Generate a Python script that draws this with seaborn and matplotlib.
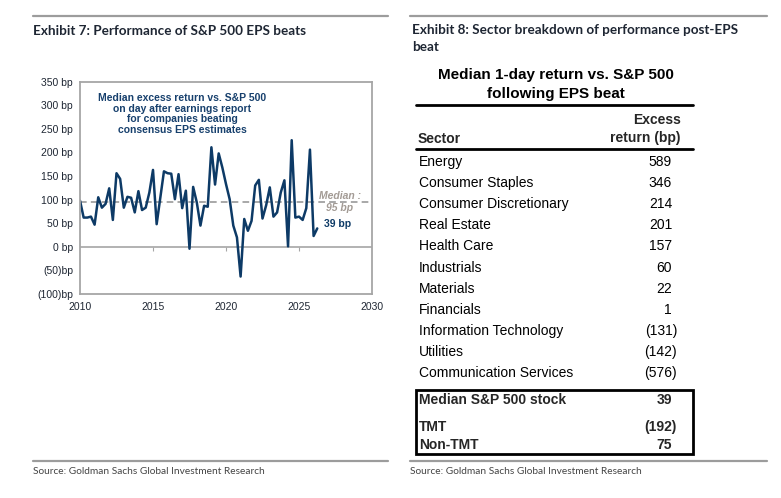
import numpy as np
import matplotlib
matplotlib.use("Agg")
import matplotlib.pyplot as plt
from matplotlib.patches import Rectangle
import seaborn as sns

# quarterly median excess return (bp), 2010Q1 .. 2026Q2
excess_bp = [
    98, 62, 62, 64, 47, 105, 83, 91, 124, 57,
    156, 144, 83, 106, 104, 73, 118, 78, 83, 115,
    163, 48, 104, 160, 156, 155, 101, 154, 82, 119,
    -4, 127, 94, 45, 87, 85, 211, 132, 198, 168,
    133, 101, 45, 20, -63, 59, 34, 55, 130, 142,
    60, 88, 126, 64, 73, 115, 141, 1, 226, 62,
    64, 57, 82, 206, 23, 39,
]
first_year = 2010
median_bp = 95
y_ticks = [350, 300, 250, 200, 150, 100, 50, 0, -50, -100]
x_ticks = [2010, 2015, 2020, 2025, 2030]

sectors = [
    "Energy", "Consumer Staples", "Consumer Discretionary", "Real Estate",
    "Health Care", "Industrials", "Materials", "Financials",
    "Information Technology", "Utilities", "Communication Services",
]
sector_bp = [589, 346, 214, 201, 157, 60, 22, 1, -131, -142, -576]
summary_names = ["Median S&P 500 stock", "TMT", "Non-TMT"]
summary_bp = [39, -192, 75]

NAVY = "#0d3a66"
GRID = "#a6a6a6"
TXT = "#1e2633"

sns.set_style("white")
plt.rcParams['font.family'] = ['Liberation Sans', 'DejaVu Sans']

W, H = 781, 498
fig = plt.figure(figsize=(W / 100, H / 100), dpi=100)

# ---------- left: line chart ----------
x0, x1, y0, y1 = 80, 372, 81.7, 294
ax = fig.add_axes([x0 / W, 1 - y1 / H, (x1 - x0) / W, (y1 - y0) / H])
quarters = first_year + np.arange(len(excess_bp)) / 4
sns.lineplot(x=quarters, y=excess_bp, ax=ax, color=NAVY, linewidth=1.8)
ax.axhline(median_bp, color="#9a9a9a", linestyle=(0, (4, 2.5)), linewidth=1.2, zorder=1)
ax.axhline(0, color=GRID, linewidth=1.2, zorder=1)
ax.set_xlim(x_ticks[0], x_ticks[-1])
ax.set_ylim(min(y_ticks), max(y_ticks))
ax.set_yticks(y_ticks)
ax.set_yticklabels([f"{v} bp" if v >= 0 else f"({-v})bp" for v in y_ticks])
ax.set_xticks(x_ticks)
ax.set_xticklabels([str(v) for v in x_ticks])
ax.tick_params(axis='y', length=3, width=0.8, color=GRID, labelsize=7.5, labelcolor=TXT, pad=2)
ax.tick_params(axis='x', length=0, labelsize=7.5, labelcolor=TXT, pad=6)
for sp in ax.spines.values():
    sp.set_visible(True)
    sp.set_color(GRID)
    sp.set_linewidth(1.3)
# small year ticks sitting on the zero line
zero_pos = (0 - min(y_ticks)) / (max(y_ticks) - min(y_ticks))
sec = ax.secondary_xaxis(zero_pos)
sec.set_xticks(x_ticks[1:-1])
sec.set_xticklabels([])
sec.tick_params(length=3, width=0.8, color=GRID)
sec.spines['bottom'].set_visible(False)

ax.text(2017.0, 327, "Median excess return vs. S&P 500\non day after earnings report\n"
        "for companies beating\nconsensus EPS estimates",
        ha="center", va="top", fontsize=7.5, fontweight="bold", color="#17406d",
        linespacing=1.12)
ax.text(2027.8, median_bp, f"Median :\n{median_bp} bp", ha="center", va="center",
        fontsize=7.5, fontstyle="italic", fontweight="bold", color="#a39b95",
        linespacing=1.2)
ax.annotate(f"{excess_bp[-1]} bp", xy=(quarters[-1], excess_bp[-1]),
            xytext=(4.5, 3), textcoords="offset points", ha="left", va="center",
            fontsize=7.5, fontweight="bold", color=NAVY)

# ---------- overlay in pixel coordinates ----------
ov = fig.add_axes([0, 0, 1, 1], facecolor="none")
ov.set_xlim(0, W)
ov.set_ylim(H, 0)
ov.axis("off")

title_font = ['Lato', 'DejaVu Sans']
for xa, xb in [(33, 388), (410, 767)]:
    ov.plot([xa, xb], [16, 16], color="#9c9c9c", linewidth=1.6)
    ov.plot([xa, xb], [460.5, 460.5], color="#9c9c9c", linewidth=1.6)
    ov.text(xa, 471, "Source: Goldman Sachs Global Investment Research", fontsize=7.3,
            color="#444444", va="center", ha="left", family=title_font)

ov.text(33, 31, "Exhibit 7: Performance of S&P 500 EPS beats", fontsize=9.7,
        fontweight="bold", color=TXT, va="center", ha="left", family=title_font)
ov.text(412, 23.5, "Exhibit 8: Sector breakdown of performance post-EPS\nbeat", fontsize=9.7,
        fontweight="bold", color=TXT, va="top", ha="left", family=title_font,
        linespacing=1.5)

# ---------- right: table ----------
tl, tr = 416, 693
ov.text(556, 84.5, "Median 1-day return vs. S&P 500\nfollowing EPS beat", ha="center",
        va="center", fontsize=11, fontweight="bold", color="black", linespacing=1.45)
ov.plot([tl, tr], [105, 105], color="black", linewidth=2)
ov.text(418, 139, "Sector", ha="left", va="center", fontsize=10, fontweight="bold")
ov.text(681, 129, "Excess\nreturn (bp)", ha="right", va="center", fontsize=10,
        fontweight="bold", linespacing=1.3)
ov.plot([tl, tr], [149, 149], color="black", linewidth=2)


def val_text(v):
    return str(v) if v >= 0 else f"({-v})"


for i, (name, v) in enumerate(zip(sectors, sector_bp)):
    yy = 162 + i * 21.1
    ov.text(419, yy, name, ha="left", va="center", fontsize=10, color="black")
    ov.text(672 if v >= 0 else 677, yy, val_text(v), ha="right", va="center",
            fontsize=10, color="black")

ov.add_patch(Rectangle((tl, 390), tr - tl, 64, fill=False, edgecolor="black", linewidth=2))
for yy, name, v in zip([400, 427, 445], summary_names, summary_bp):
    ov.text(419, yy, name, ha="left", va="center", fontsize=10, fontweight="bold")
    ov.text(672 if v >= 0 else 677, yy, val_text(v), ha="right", va="center",
            fontsize=10, fontweight="bold")

fig.savefig("out.png", dpi=100)
